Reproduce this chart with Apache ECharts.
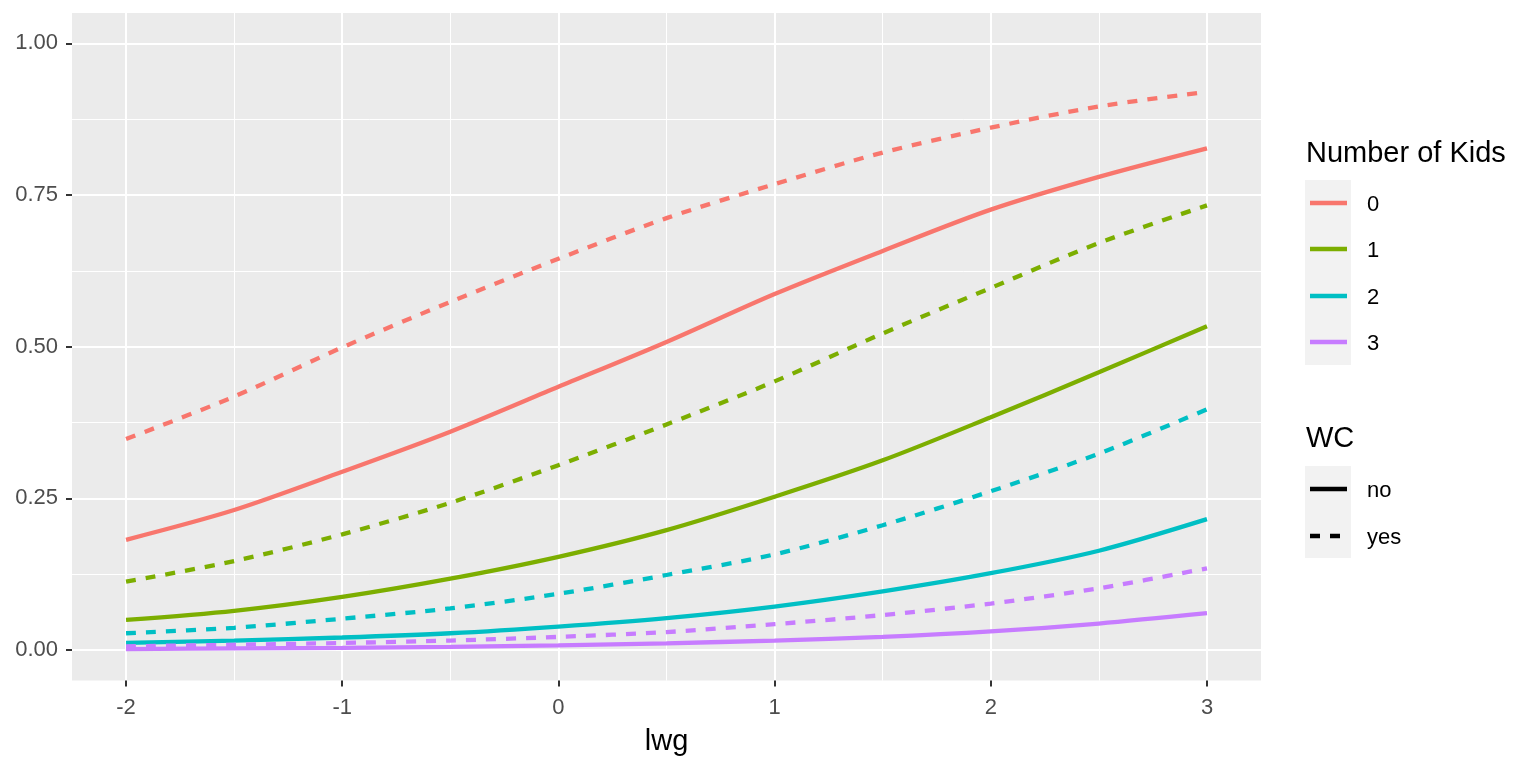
<!DOCTYPE html>
<html style="height: 100%">
<head>
<meta charset="utf-8">
<title>lwg</title>
<script src="https://cdn.jsdelivr.net/npm/echarts@6/dist/echarts.min.js"></script>
</head>
<body style="height: 100%; margin: 0; background-color: #ffffff;">
<div id="container" style="width: 1536px; height: 768px;"></div>
<script type="text/javascript">
// x values (lwg)
var lwg = [-2, -1.5, -1, -0.5, 0, 0.5, 1, 1.5, 2, 2.5, 3];

// predicted probabilities
var kids0No  = [0.182, 0.231, 0.294, 0.360, 0.434, 0.508, 0.587, 0.658, 0.726, 0.780, 0.827];
var kids0Yes = [0.348, 0.418, 0.499, 0.574, 0.645, 0.712, 0.768, 0.820, 0.861, 0.896, 0.920];
var kids1No  = [0.050, 0.065, 0.088, 0.118, 0.154, 0.198, 0.253, 0.313, 0.384, 0.458, 0.534];
var kids1Yes = [0.113, 0.147, 0.191, 0.243, 0.305, 0.372, 0.443, 0.522, 0.597, 0.671, 0.733];
var kids2No  = [0.012, 0.016, 0.021, 0.028, 0.039, 0.053, 0.072, 0.097, 0.127, 0.164, 0.216];
var kids2Yes = [0.028, 0.037, 0.052, 0.069, 0.093, 0.124, 0.158, 0.206, 0.262, 0.324, 0.397];
var kids3No  = [0.002, 0.003, 0.004, 0.0057, 0.008, 0.0115, 0.016, 0.022, 0.031, 0.044, 0.061];
var kids3Yes = [0.0065, 0.009, 0.012, 0.016, 0.022, 0.030, 0.043, 0.058, 0.077, 0.102, 0.135];

var kidLabels = ['0', '1', '2', '3'];
var wcLabels = ['no', 'yes'];
var colors = ['#F8766D', '#7CAE00', '#00BFC4', '#C77CFF'];

var FONT = '"Liberation Sans", Arial, sans-serif';

function pairs(ys) {
    var out = [];
    for (var i = 0; i < lwg.length; i++) out.push([lwg[i], ys[i]]);
    return out;
}

function makeSeries(name, ys, color, dashed) {
    return {
        name: name,
        type: 'line',
        xAxisIndex: 0,
        yAxisIndex: 0,
        data: pairs(ys),
        smooth: 0.3,
        showSymbol: false,
        silent: true,
        lineStyle: { color: color, width: 4.3, type: dashed ? [10, 10] : 'solid', cap: 'butt' }
    };
}

var noSets = [kids0No, kids1No, kids2No, kids3No];
var yesSets = [kids0Yes, kids1Yes, kids2Yes, kids3Yes];
var series = [];
for (var k = 0; k < 4; k++) {
    series.push(makeSeries(kidLabels[k] + ' no', noSets[k], colors[k], false));
    series.push(makeSeries(kidLabels[k] + ' yes', yesSets[k], colors[k], true));
}

// legend drawn by hand, ggplot style
var graphics = [];
graphics.push({ type: 'text', x: 1306, y: 154, style: { text: 'Number of Kids', font: '29px ' + FONT, fill: '#000', verticalAlign: 'middle' } });
graphics.push({ type: 'rect', shape: { x: 1305, y: 180, width: 46, height: 185 }, style: { fill: '#F2F2F2' } });
var keyY = [203, 249, 296, 342];
for (var i = 0; i < 4; i++) {
    graphics.push({ type: 'line', shape: { x1: 1310, y1: keyY[i], x2: 1347, y2: keyY[i] }, style: { stroke: colors[i], lineWidth: 4.5 } });
    graphics.push({ type: 'text', x: 1367, y: keyY[i] + 1.5, style: { text: kidLabels[i], font: '22px ' + FONT, fill: '#000', verticalAlign: 'middle' } });
}
graphics.push({ type: 'text', x: 1306, y: 439, style: { text: 'WC', font: '29px ' + FONT, fill: '#000', verticalAlign: 'middle' } });
graphics.push({ type: 'rect', shape: { x: 1305, y: 466, width: 46, height: 92 }, style: { fill: '#F2F2F2' } });
var wcY = [489, 536];
for (var j = 0; j < 2; j++) {
    graphics.push({ type: 'line', shape: { x1: 1310, y1: wcY[j], x2: 1347, y2: wcY[j] },
        style: { stroke: '#000', lineWidth: 4.5, lineDash: j === 1 ? [10, 10] : null } });
    graphics.push({ type: 'text', x: 1367, y: wcY[j] + 1.5, style: { text: wcLabels[j], font: '22px ' + FONT, fill: '#000', verticalAlign: 'middle' } });
}

var myChart = echarts.init(document.getElementById('container'));
var option = {
    animation: false,
    grid: [
        // full panel (data drawn here)
        { left: 72, top: 13, width: 1189, height: 667.6, show: true, backgroundColor: '#EBEBEB', borderWidth: 0, z: -1 },
        // y breaks 0..1
        { left: 72, top: 43.3, width: 1189, height: 606.7 },
        // x breaks -2..3
        { left: 126, top: 13, width: 1081, height: 667.6 }
    ],
    xAxis: [
        { gridIndex: 0, type: 'value', min: -2.25, max: 3.25, show: false },
        { gridIndex: 1, type: 'value', min: -2, max: 3, show: false },
        {
            gridIndex: 2, type: 'value', min: -2, max: 3, interval: 1, position: 'bottom',
            name: 'lwg', nameLocation: 'middle', nameGap: 47,
            nameTextStyle: { fontFamily: FONT, fontSize: 29, color: '#000' },
            axisLine: { show: false, onZero: false },
            axisTick: { show: true, length: 6, lineStyle: { color: '#333333', width: 2 } },
            axisLabel: { margin: 16, fontFamily: FONT, fontSize: 22, color: '#4D4D4D' },
            splitLine: { show: true, lineStyle: { color: '#FFFFFF', width: 2 } },
            minorTick: { show: false, splitNumber: 2 },
            minorSplitLine: { show: true, lineStyle: { color: '#FFFFFF', width: 1 } }
        }
    ],
    yAxis: [
        { gridIndex: 0, type: 'value', min: -0.05, max: 1.05, show: false },
        {
            gridIndex: 1, type: 'value', min: 0, max: 1, interval: 0.25, position: 'left',
            axisLine: { show: false, onZero: false },
            axisTick: { show: true, length: 6, lineStyle: { color: '#333333', width: 2 } },
            axisLabel: { margin: 14, fontFamily: FONT, fontSize: 22, color: '#4D4D4D',
                formatter: function (v) { return v.toFixed(2); } },
            splitLine: { show: true, lineStyle: { color: '#FFFFFF', width: 2 } },
            minorTick: { show: false, splitNumber: 2 },
            minorSplitLine: { show: true, lineStyle: { color: '#FFFFFF', width: 1 } }
        },
        { gridIndex: 2, type: 'value', min: -0.05, max: 1.05, show: false }
    ],
    series: series,
    graphic: graphics
};
myChart.setOption(option);
</script>
</body>
</html>
